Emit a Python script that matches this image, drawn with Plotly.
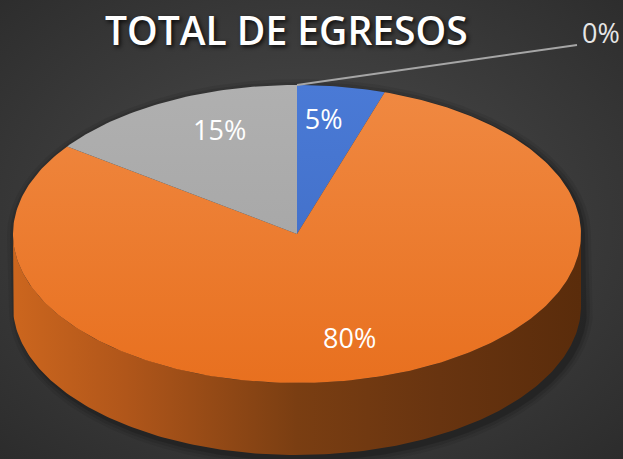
import base64
import numpy as np
import plotly.graph_objects as go

# ---------------- data ----------------
categories = ["Egreso 1", "Egreso 2", "Egreso 3", "Egreso 4"]
values = [5, 80, 15, 0]
slice_colors = ["#4472C4", "#ED7D31", "#A5A5A5", "#FFC000"]
title_text = "TOTAL DE EGRESOS"

# ---------------- layout constants ----------------
W, H = 623, 459
CX, CY = 297, 234          # centre of top face (pixel-like units)
RX, RY = 284, 149          # ellipse semi axes of top face
DEPTH = 72                 # thickness of the 3D disk
LBL_KX, LBL_KY = 0.6, 0.76
CALLOUT_END = (577, 45)
CALLOUT_TEXT = (601, 36)


def ell(t_deg, cy=CY, kx=1.0, ky=1.0):
    t = np.radians(t_deg)
    return CX + RX * kx * np.sin(t), cy - RY * ky * np.cos(t)


fig = go.Figure()

# background radial gradient
svg = (
    '<svg xmlns="http://www.w3.org/2000/svg" width="623" height="459">'
    '<defs><radialGradient id="g" cx="50%" cy="48%" r="72%">'
    '<stop offset="0" stop-color="#4d4d4d"/>'
    '<stop offset="1" stop-color="#2c2c2c"/>'
    '</radialGradient></defs>'
    '<rect width="100%" height="100%" fill="url(#g)"/></svg>'
)
bg_src = "data:image/svg+xml;base64," + base64.b64encode(svg.encode()).decode()

# soft shadow around the disk silhouette
for grow, op in [(8, 0.07), (5, 0.10), (2, 0.16)]:
    t_top = np.linspace(-90, 90, 181)
    t_bot = np.linspace(90, 270, 181)
    xs1 = CX + (RX + grow) * np.sin(np.radians(t_top)) + 2
    ys1 = CY - (RY + grow) * np.cos(np.radians(t_top)) + 2
    xs2 = CX + (RX + grow) * np.sin(np.radians(t_bot)) + 4
    ys2 = CY + DEPTH - (RY + grow) * np.cos(np.radians(t_bot)) + 4
    fig.add_trace(go.Scatter(
        x=np.concatenate([xs1, xs2]), y=np.concatenate([ys1, ys2]),
        fill="toself", mode="lines", line=dict(width=0),
        fillcolor=f"rgba(0,0,0,{op})", hoverinfo="skip", showlegend=False))

# cumulative angles (clockwise from 12 o'clock)
total = float(sum(values))
fracs = [v / total for v in values]
starts = np.concatenate([[0], np.cumsum(fracs)[:-1]]) * 360
ends = np.cumsum(fracs) * 360

# side wall (front half of the disk), shaded darker to the right
for i, (a0, a1) in enumerate(zip(starts, ends)):
    lo, hi = max(a0, 90), min(a1, 270)
    if hi <= lo:
        continue
    tt = np.linspace(lo, hi, int(hi - lo) + 2)
    xt, yt = ell(tt)
    xb, yb = ell(tt[::-1], cy=CY + DEPTH)
    fig.add_trace(go.Scatter(
        x=np.concatenate([xt, xb]), y=np.concatenate([yt, yb]),
        fill="toself", mode="lines", line=dict(width=0),
        fillgradient=dict(type="horizontal", start=CX - RX, stop=CX + RX,
                          colorscale=[[0, "#cc661e"], [0.2, "#b0561a"],
                                      [0.5, "#7a3e12"], [0.75, "#683410"],
                                      [1, "#5a2c0b"]]),
        hoverinfo="skip", showlegend=False))

# top face slices
tops = {"#4472C4": ("#4a7ad6", "#3d69c0"),
        "#ED7D31": ("#f08942", "#e8701f"),
        "#A5A5A5": ("#b0b0b0", "#a0a0a0"),
        "#FFC000": ("#ffc000", "#ffc000")}
for i, (a0, a1) in enumerate(zip(starts, ends)):
    if a1 - a0 <= 0:
        continue
    tt = np.linspace(a0, a1, int(a1 - a0) + 2)
    xa, ya = ell(tt)
    c_top, c_bot = tops[slice_colors[i]]
    fig.add_trace(go.Scatter(
        x=np.concatenate([[CX], xa, [CX]]), y=np.concatenate([[CY], ya, [CY]]),
        fill="toself", mode="lines", line=dict(width=0),
        fillgradient=dict(type="vertical", start=CY - RY, stop=CY + RY,
                          colorscale=[[0, c_top], [1, c_bot]]),
        name=categories[i], hoverinfo="skip", showlegend=False))

# data labels
lab_x, lab_y, lab_t = [], [], []
for i, (a0, a1) in enumerate(zip(starts, ends)):
    txt = f"{fracs[i] * 100:.0f}%"
    if a1 - a0 > 0:
        x, y = ell((a0 + a1) / 2, kx=LBL_KX, ky=LBL_KY)
        lab_x.append(x); lab_y.append(y); lab_t.append(txt)
    else:
        px, py = ell(a0)
        fig.add_trace(go.Scatter(
            x=[px, CALLOUT_END[0] - 10, CALLOUT_END[0]],
            y=[py, CALLOUT_END[1] + 1, CALLOUT_END[1]],
            mode="lines", line=dict(color="#a6a6a6", width=2),
            hoverinfo="skip", showlegend=False))
        fig.add_trace(go.Scatter(
            x=[CALLOUT_TEXT[0]], y=[CALLOUT_TEXT[1]], mode="text", text=[txt],
            textfont=dict(family="Open Sans", size=27, color="#e6e6e6"),
            hoverinfo="skip", showlegend=False))

fig.add_trace(go.Scatter(
    x=lab_x, y=lab_y, mode="text", text=lab_t,
    textfont=dict(family="Open Sans", size=27, color="#ffffff"),
    hoverinfo="skip", showlegend=False))

fig.add_annotation(
    x=286, y=29, xref="x", yref="y", text=title_text, showarrow=False,
    font=dict(family="Open Sans", size=39, color="#ffffff", weight=600,
              shadow="2px 2px 4px rgba(0,0,0,0.8)"))

fig.update_layout(
    width=W, height=H, margin=dict(l=0, r=0, t=0, b=0),
    paper_bgcolor="#363636", plot_bgcolor="rgba(0,0,0,0)",
    xaxis=dict(range=[0, W], visible=False, fixedrange=True),
    yaxis=dict(range=[H, 0], visible=False, fixedrange=True),
    showlegend=False,
    images=[dict(source=bg_src, xref="paper", yref="paper", x=0, y=1,
                 sizex=1, sizey=1, sizing="stretch", layer="below",
                 xanchor="left", yanchor="top")],
)

fig.write_html("out.html", config={"displayModeBar": False},
               post_script="document.body.style.margin='0px';"
                           "document.body.style.overflow='hidden';")
